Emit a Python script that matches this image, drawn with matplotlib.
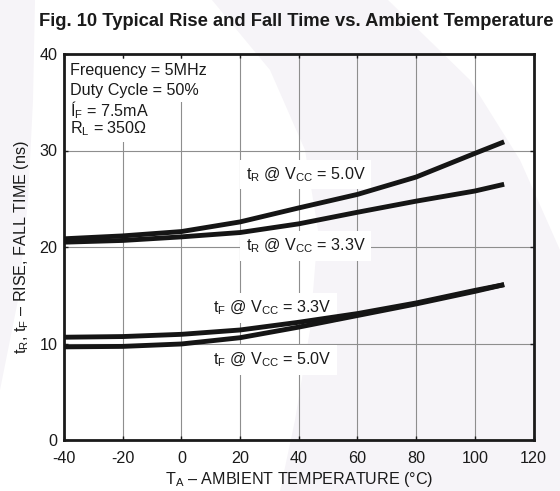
import matplotlib
matplotlib.use("Agg")
import matplotlib.pyplot as plt
from matplotlib.patches import Polygon

plt.rcParams['font.family'] = ['Liberation Sans', 'DejaVu Sans']
plt.rcParams['mathtext.fontset'] = 'custom'
plt.rcParams['mathtext.rm'] = 'Liberation Sans'
plt.rcParams['mathtext.it'] = 'Liberation Sans'
plt.rcParams['axes.unicode_minus'] = False

# ---- data ----
temperature = [-40, -20, 0, 20, 40, 60, 80, 100, 110]
tr_vcc50 = [20.85, 21.15, 21.6, 22.6, 24.05, 25.45, 27.25, 29.7, 30.9]
tr_vcc33 = [20.5, 20.68, 21.05, 21.5, 22.4, 23.6, 24.75, 25.8, 26.5]
tf_vcc33 = [10.65, 10.72, 10.95, 11.4, 12.2, 13.1, 14.2, 15.5, 16.1]
tf_vcc50 = [9.65, 9.7, 9.95, 10.6, 11.7, 12.9, 14.1, 15.4, 16.1]

x_ticks = [-40, -20, 0, 20, 40, 60, 80, 100, 120]
y_ticks = [0, 10, 20, 30, 40]

title = "Fig. 10 Typical Rise and Fall Time vs. Ambient Temperature"
xlabel = "T$_\\mathregular{A}$ – AMBIENT TEMPERATURE (°C)"
ylabel = "t$_\\mathregular{R}$, t$_\\mathregular{F}$ – RISE, FALL TIME (ns)"
conditions = ["Frequency = 5MHz", "Duty Cycle = 50%",
              "Í$_\\mathregular{F}$ = 7.5mA", "R$_\\mathregular{L}$ = 350Ω"]
curve_labels = ["t$_\\mathregular{R}$ @ V$_\\mathregular{CC}$ = 5.0V",
                "t$_\\mathregular{R}$ @ V$_\\mathregular{CC}$ = 3.3V",
                "t$_\\mathregular{F}$ @ V$_\\mathregular{CC}$ = 3.3V",
                "t$_\\mathregular{F}$ @ V$_\\mathregular{CC}$ = 5.0V"]

W, H = 560, 491
FS = 11.6
fig = plt.figure(figsize=(W / 100, H / 100), dpi=100)
fig.patch.set_facecolor('white')

def px(x, y):
    return (x / W, 1 - y / H)

# faint watermark shapes
wm = '#f6f4f8'
band = [(212, 0), (270, 70), (305, 150), (318, 230), (310, 330), (295, 420),
        (280, 491), (560, 491), (560, 250), (520, 160), (470, 80), (388, 0)]
fig.add_artist(Polygon([px(*p) for p in band], closed=True, transform=fig.transFigure,
                       facecolor=wm, edgecolor='none', zorder=-5))
crescent = [(0, 0), (35, 0), (33, 100), (28, 200), (18, 300), (0, 390)]
fig.add_artist(Polygon([px(*p) for p in crescent], closed=True, transform=fig.transFigure,
                       facecolor=wm, edgecolor='none', zorder=-5))

left, right, top, bottom = 64, 533.5, 54, 440
ax = fig.add_axes([left / W, 1 - bottom / H, (right - left) / W, (bottom - top) / H])
ax.set_facecolor('none')

ax.set_xlim(-40, 120)
ax.set_ylim(0, 40)
ax.set_xticks(x_ticks)
ax.set_yticks(y_ticks)
ax.grid(True, color='#8e8e8e', linewidth=0.8, zorder=1)
ax.set_axisbelow(True)
for s in ax.spines.values():
    s.set_linewidth(2.0)
    s.set_color('#1a1a1a')
ax.tick_params(direction='in', length=3, width=1, top=True, right=True,
               labelsize=FS, colors='#1a1a1a')
ax.tick_params(axis='y', pad=4.5)
ax.tick_params(axis='x', pad=8)

lw = 3.5
for ys in (tr_vcc50, tr_vcc33, tf_vcc33, tf_vcc50):
    ax.plot(temperature, ys, color='#151515', linewidth=lw, solid_capstyle='butt', zorder=4)

# condition block: white boxes first, then text on top
box = dict(boxstyle='square,pad=0.25', facecolor='white', edgecolor='none')
cond_y = [38.3, 36.2, 34.2, 32.3]
for txt, yy in zip(conditions, cond_y):
    ax.text(-38.05, yy, txt, fontsize=FS, ha='left', va='center', color='none',
            bbox=box, zorder=2.5)
for txt, yy in zip(conditions, cond_y):
    ax.text(-38.05, yy, txt, fontsize=FS, ha='left', va='center', color='#1a1a1a',
            zorder=3)

label_pos = [(22.0, 27.5), (22.0, 20.1), (10.9, 13.7), (10.9, 8.3)]
for txt, (xx, yy) in zip(curve_labels, label_pos):
    ax.text(xx, yy, txt, fontsize=FS, ha='left', va='center', color='#1a1a1a',
            bbox=dict(boxstyle='square,pad=0.35', facecolor='white', edgecolor='none'),
            zorder=3)

ax.set_xlabel(xlabel, fontsize=FS, color='#1a1a1a', labelpad=3)
ax.set_ylabel(ylabel, fontsize=FS, color='#1a1a1a', labelpad=6)

fig.text(296.5 / W, 1 - 21 / H, title, fontsize=13.2, fontweight='bold',
         ha='center', va='center', color='#1a1a1a')

fig.savefig('out.png', dpi=100)
